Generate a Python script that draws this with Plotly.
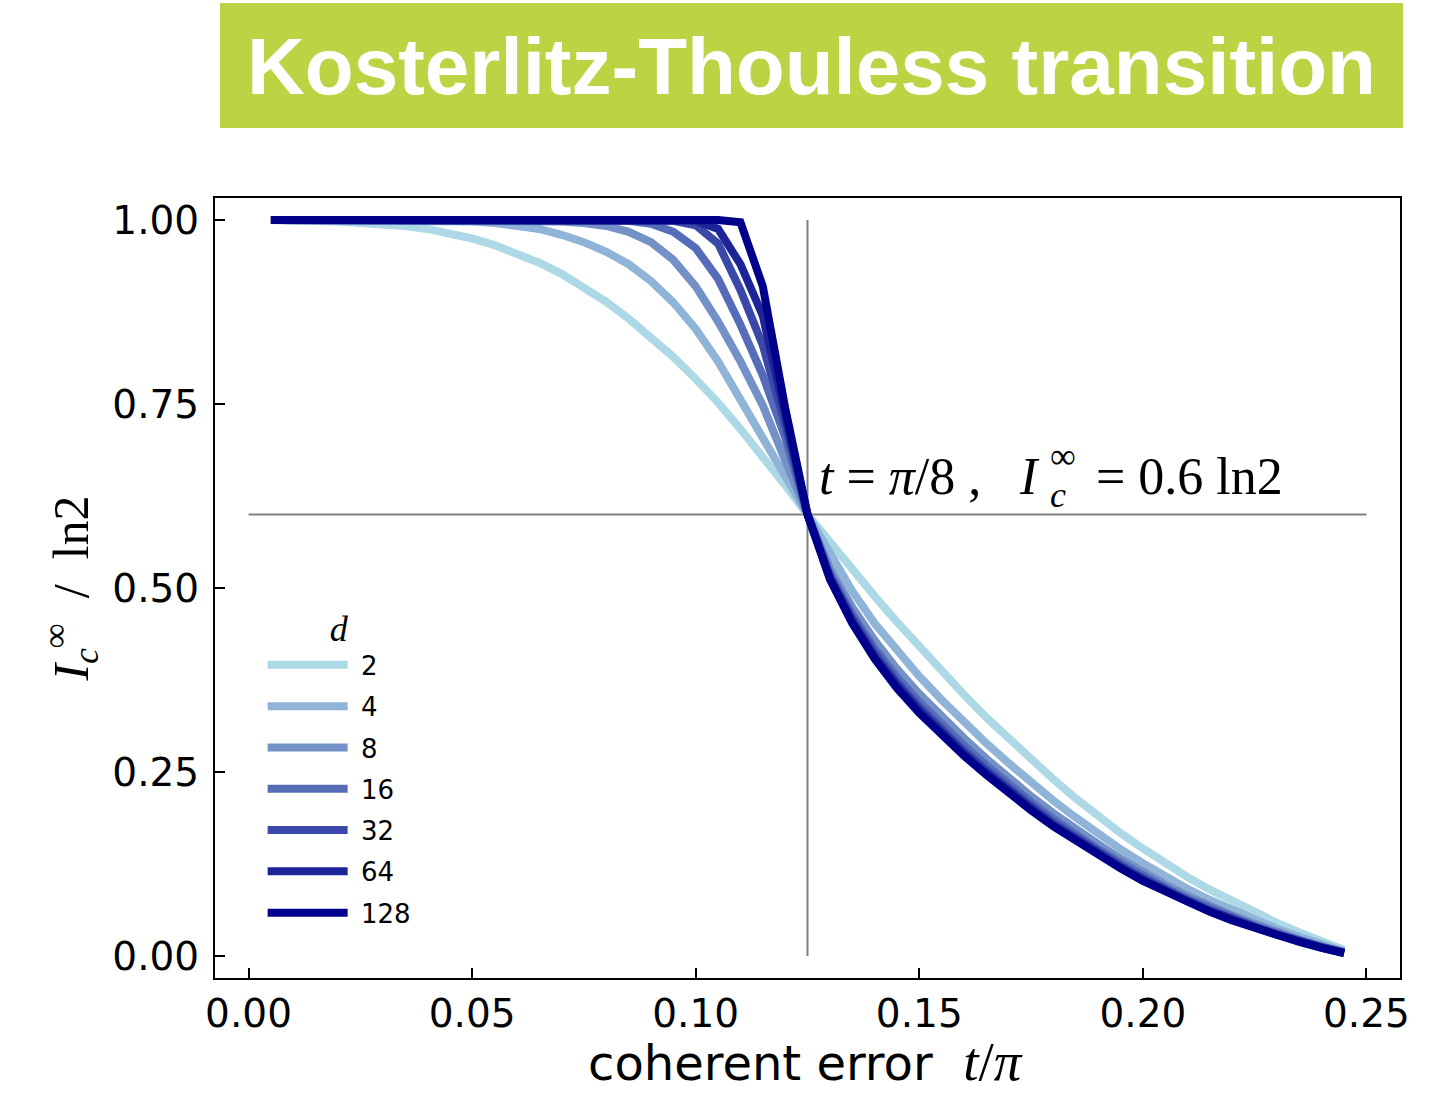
import plotly.graph_objects as go

# Coherent error t/pi (horizontal axis samples)
t_over_pi = [0.005, 0.010, 0.015, 0.020, 0.025, 0.030, 0.035, 0.040, 0.045, 0.050,
             0.055, 0.060, 0.065, 0.070, 0.075, 0.080, 0.085, 0.090, 0.095, 0.100,
             0.105, 0.110, 0.115, 0.120, 0.125, 0.130, 0.135, 0.140, 0.145, 0.150,
             0.155, 0.160, 0.165, 0.170, 0.175, 0.180, 0.185, 0.190, 0.195, 0.200,
             0.205, 0.210, 0.215, 0.220, 0.225, 0.230, 0.235, 0.240, 0.245]

bond_dims = [2, 4, 8, 16, 32, 64, 128]

# I_c^inf / ln2 for each bond dimension d
ic_d2 = [1.000, 1.000, 0.999, 0.998, 0.996, 0.995, 0.992, 0.988, 0.982, 0.975,
         0.966, 0.955, 0.942, 0.927, 0.909, 0.889, 0.866, 0.841, 0.814, 0.784,
         0.752, 0.716, 0.679, 0.640, 0.600, 0.562, 0.525, 0.489, 0.454, 0.420,
         0.387, 0.355, 0.324, 0.295, 0.267, 0.240, 0.214, 0.190, 0.167, 0.146,
         0.126, 0.107, 0.090, 0.074, 0.059, 0.045, 0.032, 0.020, 0.008]
ic_d4 = [1.000, 1.000, 1.000, 1.000, 1.000, 1.000, 1.000, 1.000, 0.999, 0.998,
         0.996, 0.993, 0.988, 0.980, 0.970, 0.957, 0.940, 0.917, 0.888, 0.852,
         0.808, 0.756, 0.703, 0.651, 0.600, 0.546, 0.496, 0.452, 0.414, 0.380,
         0.348, 0.318, 0.289, 0.262, 0.236, 0.211, 0.188, 0.166, 0.145, 0.126,
         0.108, 0.091, 0.076, 0.062, 0.049, 0.037, 0.026, 0.016, 0.006]
ic_d8 = [1.000, 1.000, 1.000, 1.000, 1.000, 1.000, 1.000, 1.000, 1.000, 1.000,
         1.000, 1.000, 0.999, 0.998, 0.996, 0.992, 0.984, 0.970, 0.946, 0.910,
         0.862, 0.808, 0.748, 0.677, 0.600, 0.527, 0.474, 0.429, 0.390, 0.356,
         0.325, 0.296, 0.268, 0.242, 0.217, 0.194, 0.172, 0.152, 0.132, 0.114,
         0.097, 0.082, 0.068, 0.055, 0.044, 0.032, 0.022, 0.013, 0.005]
ic_d16 = [1.000, 1.000, 1.000, 1.000, 1.000, 1.000, 1.000, 1.000, 1.000, 1.000,
          1.000, 1.000, 1.000, 1.000, 1.000, 1.000, 0.999, 0.995, 0.984, 0.962,
          0.920, 0.858, 0.789, 0.705, 0.600, 0.520, 0.464, 0.418, 0.379, 0.345,
          0.314, 0.286, 0.259, 0.233, 0.209, 0.186, 0.165, 0.145, 0.127, 0.109,
          0.093, 0.078, 0.065, 0.052, 0.041, 0.031, 0.021, 0.012, 0.005]
ic_d32 = [1.000, 1.000, 1.000, 1.000, 1.000, 1.000, 1.000, 1.000, 1.000, 1.000,
          1.000, 1.000, 1.000, 1.000, 1.000, 1.000, 1.000, 1.000, 0.999, 0.993,
          0.968, 0.905, 0.830, 0.722, 0.600, 0.516, 0.459, 0.412, 0.372, 0.338,
          0.308, 0.279, 0.253, 0.227, 0.204, 0.181, 0.161, 0.141, 0.123, 0.106,
          0.090, 0.076, 0.062, 0.050, 0.040, 0.029, 0.020, 0.012, 0.004]
ic_d64 = [1.000, 1.000, 1.000, 1.000, 1.000, 1.000, 1.000, 1.000, 1.000, 1.000,
          1.000, 1.000, 1.000, 1.000, 1.000, 1.000, 1.000, 1.000, 1.000, 0.999,
          0.988, 0.940, 0.870, 0.734, 0.600, 0.514, 0.455, 0.407, 0.368, 0.334,
          0.303, 0.275, 0.249, 0.224, 0.201, 0.178, 0.158, 0.139, 0.121, 0.104,
          0.088, 0.074, 0.061, 0.049, 0.039, 0.029, 0.019, 0.011, 0.004]
ic_d128 = [1.000, 1.000, 1.000, 1.000, 1.000, 1.000, 1.000, 1.000, 1.000, 1.000,
           1.000, 1.000, 1.000, 1.000, 1.000, 1.000, 1.000, 1.000, 1.000, 1.000,
           1.000, 0.997, 0.910, 0.745, 0.600, 0.512, 0.452, 0.404, 0.364, 0.330,
           0.300, 0.272, 0.246, 0.221, 0.198, 0.176, 0.156, 0.137, 0.119, 0.102,
           0.087, 0.073, 0.060, 0.048, 0.038, 0.028, 0.019, 0.011, 0.004]

series = [ic_d2, ic_d4, ic_d8, ic_d16, ic_d32, ic_d64, ic_d128]
line_colors = ["#ADD8E6", "#90B4D7", "#7390C7", "#576CB9", "#3A48A9", "#1D249A", "#00008B"]

x_tick_vals = [0.00, 0.05, 0.10, 0.15, 0.20, 0.25]
x_tick_text = ["0.00", "0.05", "0.10", "0.15", "0.20", "0.25"]
y_tick_vals = [0.00, 0.25, 0.50, 0.75, 1.00]
y_tick_text = ["0.00", "0.25", "0.50", "0.75", "1.00"]

# critical point marked by guide lines
t_crit = 0.125
ic_crit = 0.6
guide_x_span = [0.0, 0.25]
guide_y_span = [0.0, 1.0]

title_text = "Kosterlitz-Thouless transition"
title_green = "#BBD444"
serif = "Liberation Serif"
sans = "DejaVu Sans"
nb = "\u00a0"

fig = go.Figure()
for d, ys, col in zip(bond_dims, series, line_colors):
    assert len(ys) == len(t_over_pi)
    fig.add_trace(go.Scatter(
        x=t_over_pi, y=ys, mode="lines", name=nb + str(d), legendgroup=str(d),
        line=dict(color=col, width=8),
    ))

# guide lines through the crossing point
fig.add_shape(type="line", xref="x", yref="y", layer="below",
              x0=guide_x_span[0], x1=guide_x_span[1], y0=ic_crit, y1=ic_crit,
              line=dict(color="#808080", width=2))
fig.add_shape(type="line", xref="x", yref="y", layer="below",
              x0=t_crit, x1=t_crit, y0=guide_y_span[0], y1=guide_y_span[1],
              line=dict(color="#808080", width=2))

# crossing-point label, pieced together so that c and infinity stack on I
label_font = dict(family=serif, size=52, color="black")
small_font = dict(family=serif, size=36, color="black")
label_parts = [
    (0.1272, 0.651, "<i>t</i>" + nb + "=" + nb + "<i>π</i>/8" + nb + ",", label_font),
    (0.1718, 0.651, "<i>I</i>", label_font),
    (0.1788, 0.680, "∞", small_font),
    (0.1788, 0.626, "<i>c</i>", small_font),
    (0.1890, 0.651, "=" + nb + "0.6" + nb + "ln2", label_font),
]
for lx, ly, ltxt, lfont in label_parts:
    fig.add_annotation(x=lx, y=ly, xref="x", yref="y", xanchor="left",
                       yanchor="middle", showarrow=False, text=ltxt, font=lfont)

# horizontal axis title
fig.add_annotation(
    x=0.4985, y=-0.1075, xref="paper", yref="paper", showarrow=False,
    xanchor="center", yanchor="middle",
    text="coherent error" + nb + nb
         + "<span style='font-family:Liberation Serif;font-size:55px'><i>t</i>/<i>π</i></span>",
    font=dict(family=sans, size=48, color="black"),
)

# banner title
fig.add_shape(type="rect", xref="paper", yref="paper",
              x0=0.0042, x1=1.0025, y0=1.0897, y1=1.25,
              fillcolor=title_green, line=dict(width=0), layer="below")
fig.add_annotation(
    x=0.5034, y=1.169, xref="paper", yref="paper", showarrow=False,
    xanchor="center", yanchor="middle", text="<b>" + title_text + "</b>",
    font=dict(family="Liberation Sans", size=80, color="white"),
)

axis_common = dict(
    showgrid=False, zeroline=False, showline=True, linecolor="black", linewidth=2,
    mirror=True, ticks="inside", ticklen=10, tickwidth=2, tickcolor="black",
    tickfont=dict(family=sans, size=39, color="black"),
)

fig.update_xaxes(
    range=[-0.0075, 0.2575], tickvals=x_tick_vals, ticktext=x_tick_text,
    ticklabelstandoff=0,
    **axis_common,
)
fig.update_yaxes(
    range=[-0.03, 1.03], tickvals=y_tick_vals, ticktext=y_tick_text,
    ticklabelstandoff=6,
    title=dict(
        text="<i>I</i><sub><i>c</i></sub><sup>∞</sup>" + nb + nb + "/" + nb + nb + "ln2",
        font=dict(family=serif, size=50, color="black"), standoff=8),
    **axis_common,
)

fig.update_layout(
    width=1435, height=1095,
    margin=dict(l=215, r=35, t=198, b=117),
    paper_bgcolor="white", plot_bgcolor="white",
    showlegend=True,
    legend=dict(
        x=0.0402, y=0.4915, xanchor="left", yanchor="top",
        bgcolor="rgba(0,0,0,0)", borderwidth=0,
        itemwidth=80, tracegroupgap=4.5,
        font=dict(family=sans, size=26, color="black"),
        title=dict(text="<i>d</i>", side="top center",
                   font=dict(family=serif, size=36, color="black")),
    ),
)

fig.write_html("out.html")
